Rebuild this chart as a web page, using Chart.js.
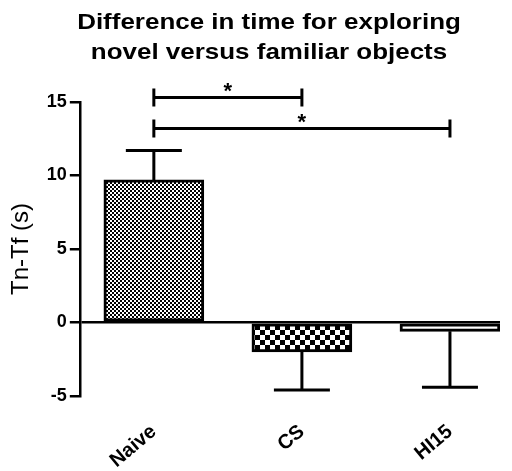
<!DOCTYPE html>
<html>
<head>
<meta charset="utf-8">
<script src="https://cdn.jsdelivr.net/npm/chart.js@4.4.1/dist/chart.umd.min.js"></script>
<style>
  html, body { margin: 0; padding: 0; background: #fff; }
  #wrap { width: 512px; height: 471px; }
</style>
</head>
<body>
<div id="wrap"><canvas id="c" width="512" height="471"></canvas></div>
<script>
// Group names, mean difference and SEM per group
const groups = ['Naive', 'CS', 'HI15'];
const means = [9.7, -2.0, -0.6];
const sems = [2.0, 2.6, 3.8];
const yTicks = [-5, 0, 5, 10, 15];
const titleLines = ['Difference in time for exploring', 'novel versus familiar objects'];
// Significance comparisons: [group a, group b, bracket height, label]
const comparisons = [
  [0, 1, 15.3, '*'],
  [0, 2, 13.2, '*']
];

const FONT = '"Liberation Sans", Arial, sans-serif';

function checker(cell) {
  const c = document.createElement('canvas');
  c.width = c.height = cell * 2;
  const g = c.getContext('2d');
  g.fillStyle = '#fff';
  g.fillRect(0, 0, cell * 2, cell * 2);
  g.fillStyle = '#000';
  g.fillRect(0, 0, cell, cell);
  g.fillRect(cell, cell, cell, cell);
  return g.createPattern(c, 'repeat');
}
const ctx = document.getElementById('c').getContext('2d');
const fills = [checker(2), checker(5), '#fff'];

// Two-line heading, slightly widened like the original figure lettering
const heading = {
  id: 'heading',
  afterDraw(chart) {
    const g = chart.ctx;
    g.save();
    g.fillStyle = '#000';
    g.font = 'bold 22px ' + FONT;
    g.textAlign = 'center';
    g.textBaseline = 'middle';
    g.translate(269, 0);
    g.scale(1.18, 1);
    titleLines.forEach((t, i) => g.fillText(t, 0, 23 + i * 30));
    g.restore();
  }
};

const errorBars = {
  id: 'errorBars',
  afterDatasetsDraw(chart) {
    const g = chart.ctx, xs = chart.scales.x, ys = chart.scales.y;
    g.save();
    g.strokeStyle = '#000';
    g.lineWidth = 3;
    means.forEach((m, i) => {
      const x = xs.getPixelForValue(i);
      const y0 = ys.getPixelForValue(m);
      const y1 = ys.getPixelForValue(m + Math.sign(m) * sems[i]);
      g.beginPath();
      g.moveTo(x, y0); g.lineTo(x, y1);
      g.moveTo(x - 28, y1); g.lineTo(x + 28, y1);
      g.stroke();
    });
    g.restore();
  },
  afterDraw(chart) {
    const g = chart.ctx, xs = chart.scales.x, ys = chart.scales.y;
    g.save();
    g.strokeStyle = '#000';
    g.fillStyle = '#000';
    g.lineWidth = 3;
    g.font = 'bold 22px ' + FONT;
    g.textAlign = 'center';
    g.textBaseline = 'middle';
    comparisons.forEach(([a, b, h, lab]) => {
      const xa = xs.getPixelForValue(a), xb = xs.getPixelForValue(b);
      const y = ys.getPixelForValue(h);
      g.beginPath();
      g.moveTo(xa, y); g.lineTo(xb, y);
      g.moveTo(xa, y - 9); g.lineTo(xa, y + 9);
      g.moveTo(xb, y - 9); g.lineTo(xb, y + 9);
      g.stroke();
      g.fillText(lab, (xa + xb) / 2, y - 6);
    });
    g.restore();
  }
};

new Chart(ctx, {
  type: 'bar',
  data: {
    datasets: [{
      data: means.map((m, i) => ({ x: i, y: m })),
      backgroundColor: fills,
      borderColor: '#000',
      borderWidth: 3,
      borderSkipped: false,
      barThickness: 100
    }]
  },
  options: {
    responsive: false,
    animation: false,
    layout: { padding: { left: 7, right: 12, top: 102, bottom: 2 } },
    plugins: {
      legend: { display: false },
      tooltip: { enabled: false },
      title: { display: false }
    },
    scales: {
      x: {
        type: 'linear',
        offset: false,
        min: -0.5,
        max: 2.338,
        afterBuildTicks: s => { s.ticks = groups.map((_, i) => ({ value: i })); },
        afterFit: s => { s.height = 73; },
        ticks: {
          callback: v => groups[v],
          minRotation: 40,
          maxRotation: 40,
          color: '#000',
          font: { family: FONT, size: 20, weight: 'bold' },
          padding: 24
        },
        grid: { display: false, drawTicks: false, offset: false },
        border: { display: false }
      },
      y: {
        min: -5,
        max: 15,
        afterBuildTicks: s => { s.ticks = yTicks.map(v => ({ value: v })); },
        ticks: {
          color: '#000',
          font: { family: FONT, size: 18, weight: 'bold' },
          padding: 3
        },
        grid: {
          color: c => (c.tick && c.tick.value === 0 ? '#000' : 'rgba(0,0,0,0)'),
          lineWidth: 2.5,
          tickColor: '#000',
          tickLength: 10
        },
        border: { display: true, color: '#000', width: 2.5 },
        title: {
          display: true,
          text: 'Tn-Tf (s)',
          color: '#000',
          font: { family: FONT, size: 24 },
          padding: { top: 0, bottom: 8 }
        }
      }
    }
  },
  plugins: [errorBars, heading]
});
</script>
</body>
</html>
